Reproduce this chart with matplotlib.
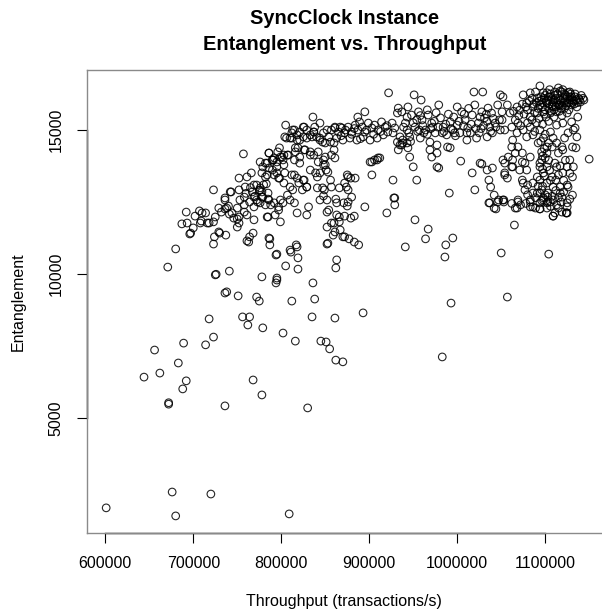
import numpy as np
import matplotlib
matplotlib.use("Agg")
import matplotlib.pyplot as plt

plt.rcParams['font.family'] = ['Liberation Sans', 'DejaVu Sans']

# (throughput in thousands of transactions/s, entanglement)
sparse_low = [
    (601, 1880), (676, 2430), (680, 1600), (720, 2360), (809, 1670),
    (672, 5480), (672, 5530), (736, 5420), (830, 5350), (644, 6420),
    (656, 7360), (662, 6560), (683, 6910), (689, 7600), (692, 6290),
    (688, 6010), (718, 8440), (714, 7540), (723, 7810), (768, 6320),
    (778, 5800), (756, 8510), (764, 8510), (762, 8230), (779, 8130),
    (802, 7950), (816, 7670), (812, 9060), (838, 9130), (835, 8510),
    (861, 8470), (845, 7670), (851, 7640), (855, 7400), (862, 7010),
    (870, 6950), (751, 9240), (772, 9200), (775, 9060), (738, 9380),
    (736, 9340), (893, 8650), (993, 8990), (983, 7120), (1057, 9200),
]

sparse_mid = [
    (952, 11880), (967, 11560), (964, 11220), (941, 10940), (995, 11250),
    (987, 11010), (986, 10590), (1050, 10730), (1104, 10690), (1065, 11700),
    (787, 11220), (787, 11010), (794, 10660), (795, 10690), (817, 11010),
    (811, 10760), (819, 10560), (805, 10280), (819, 10170), (852, 11040),
    (853, 11070), (870, 11290), (877, 11220), (883, 11110), (888, 11010),
    (863, 10490), (862, 10210), (778, 9900), (795, 9860), (794, 9690),
    (836, 9690), (680, 10870), (671, 10240), (725, 9970), (726, 9990),
    (741, 10100), (761, 11150), (764, 11290), (768, 11420), (786, 11250),
    (687, 11740), (696, 11390), (700, 11600), (709, 11840), (716, 11770),
    (723, 11810), (729, 11460), (724, 11290), (723, 11040), (737, 11350),
    (750, 11630), (750, 11910), (810, 10830), (818, 10940), (795, 9790),
    (852, 12150), (860, 11770), (866, 11980), (861, 11460), (867, 11530),
    (872, 11290), (859, 11350), (857, 11770), (852, 11630), (872, 12010),
    (879, 11940), (883, 12010), (863, 12050), (866, 11810), (920, 12120),
]

band_left = [
    (757, 14170), (723, 12920), (692, 12150), (707, 12190), (714, 12120),
    (732, 12150), (736, 12260), (736, 12570), (740, 12360), (743, 12850),
    (761, 12050), (769, 11880), (752, 13330), (761, 13370), (766, 13510),
    (782, 13850), (784, 11980), (760, 12800), (765, 13000), (770, 12700),
    (775, 12900), (780, 13100), (785, 12600), (788, 12400), (758, 12400),
    (773, 12500), (752, 12920), (759, 13020), (767, 12850), (772, 13090),
    (758, 12670), (769, 12670), (778, 12850), (736, 12640), (729, 12290),
    (738, 12290), (725, 11980), (718, 11770), (744, 12120), (752, 11980),
    (742, 12850), (753, 12570), (764, 12500), (772, 12570), (778, 12670),
    (786, 12570), (792, 12470), (797, 12330), (750, 12290), (758, 12150),
    (769, 12330), (807, 12740), (815, 12470), (799, 12570), (702, 12010),
    (710, 12120), (708, 11770), (693, 11770), (697, 11420), (730, 11420),
    (741, 12080), (746, 11940), (752, 11770), (763, 11110), (783, 13130),
    (776, 13890), (784, 13850), (795, 13890), (802, 13960), (792, 14030),
    (799, 14060), (807, 14130), (803, 13790), (795, 13720), (786, 13680),
    (776, 12990), (782, 13370), (792, 13440), (797, 13330), (803, 13160),
    (769, 13090), (779, 13720), (778, 13510), (784, 13440), (790, 13610),
    (795, 13510), (798, 13330), (804, 13510), (812, 13440), (818, 13330),
    (825, 13260), (776, 12920), (779, 12670), (785, 12810), (776, 12470),
    (782, 12400), (786, 14200), (790, 13960),
]

band_mid = [
    (842, 13890), (848, 13790), (839, 13510), (853, 13540), (856, 13260),
    (847, 12990), (841, 12990), (848, 12710), (852, 12570), (862, 12600),
    (854, 12220), (833, 13610), (829, 13020), (824, 12920), (813, 12920),
    (810, 12570), (802, 12470), (797, 12220), (793, 12050), (785, 11980),
    (799, 11810), (818, 12120), (829, 12050), (831, 12330), (875, 13440),
    (879, 13330), (884, 13330), (874, 13020), (876, 12920), (875, 12360),
    (895, 12330), (901, 13890), (906, 13960), (910, 14030), (927, 13260),
    (929, 12640), (929, 12400), (932, 14580), (935, 14480), (938, 14550),
    (933, 14310), (943, 15450), (922, 16290), (933, 15760), (932, 15590),
    (805, 15170), (836, 15450), (844, 15240), (895, 15630), (887, 15450),
    (889, 15280), (806, 14720), (812, 14720), (821, 14650), (829, 14720),
    (837, 14930), (844, 14720), (852, 15000), (861, 15070), (867, 15100),
    (860, 14550), (860, 14310), (861, 14030), (815, 13960), (821, 13850),
    (810, 13020), (820, 13160), (829, 13020), (849, 12920), (844, 12570),
    (826, 13260), (815, 13440), (848, 13960), (850, 13790), (851, 13610),
    (844, 13510), (841, 13370), (866, 12990), (872, 13160), (857, 13020),
    (871, 12470), (863, 12470), (876, 12500), (880, 12670), (876, 13370),
    (903, 13440), (903, 13890), (909, 13960), (912, 14030), (928, 12640),
    (804, 14760), (812, 14900), (818, 14650), (821, 14930), (825, 14760),
    (829, 15000), (833, 14830), (837, 14930), (840, 14760), (844, 14650),
    (848, 14900), (850, 14550), (857, 15000), (861, 15100), (865, 14930),
    (869, 15070), (872, 14900), (876, 15100), (880, 14930), (884, 15170),
    (887, 15000), (892, 15100), (895, 14930), (899, 15240), (903, 15070),
    (906, 15170), (910, 15000), (914, 15280), (918, 15100), (921, 14930),
    (926, 15240), (929, 15070), (935, 14760), (938, 14650), (937, 14480),
    (943, 14550), (944, 14380), (856, 14580), (863, 14720), (870, 14650),
    (878, 14720), (886, 14650), (893, 14760), (901, 14650), (909, 14720),
    (916, 14830), (838, 15100), (825, 15100), (813, 15000), (810, 14720),
    (833, 14240), (837, 14130), (827, 14310), (821, 14060), (819, 14380),
    (816, 14240), (808, 14130), (801, 14060), (796, 14240), (791, 13960),
    (826, 15100), (815, 15000), (818, 14830), (835, 14760), (847, 14580),
    (854, 14760), (798, 14380), (803, 14130), (816, 14380), (826, 14310),
    (833, 14130), (842, 14240), (850, 14060), (857, 14130), (786, 14200),
    (790, 13960),
]

band_right = [
    (937, 15630), (941, 15240), (943, 15000), (944, 15800), (948, 15520),
    (952, 15100), (956, 15630), (960, 15350), (964, 15000), (967, 15520),
    (971, 15240), (975, 14900), (979, 15870), (981, 15420), (984, 15100),
    (988, 14830), (992, 15280), (995, 15000), (1000, 15170), (1003, 14900),
    (1005, 15630), (1009, 15350), (1012, 15070), (1017, 15520), (1020, 15870),
    (1024, 15240), (1028, 15630), (1031, 15420), (1035, 15760), (1039, 15590),
    (1043, 15240), (1046, 15870), (1051, 15630), (946, 14760), (958, 14720),
    (969, 14580), (977, 14480), (1011, 14650), (1022, 14720), (1034, 14760),
    (1040, 14900), (1049, 15000), (969, 14310), (992, 14380), (951, 16220),
    (959, 16040), (1019, 16320), (1029, 16320), (1049, 16220), (946, 14060),
    (950, 13720), (954, 13260), (977, 13720), (979, 13680), (971, 14060),
    (977, 14200), (989, 14410), (1004, 13920), (991, 12810), (1020, 12920),
    (1017, 13510), (1026, 13850), (1028, 13820), (1034, 13610), (1040, 13680),
    (1036, 13260), (1042, 12740), (1036, 12470), (1042, 12290), (1047, 12570),
    (1053, 12570), (1038, 13020), (1046, 12500), (957, 15000), (962, 14900),
    (972, 15100), (985, 14950), (998, 14800), (1015, 14900), (1027, 15050),
    (1037, 15100), (954, 15350), (966, 15700), (990, 15550), (1000, 15800),
    (1013, 15750), (1026, 15450), (1041, 15400),
    (939, 15100), (945, 14900), (950, 15250), (955, 14950), (961, 15150),
    (966, 14850), (970, 15050), (974, 15300), (978, 15100), (983, 14900),
    (987, 15200), (993, 15050), (997, 14900), (1002, 15300), (1007, 15150),
    (1011, 14900), (1016, 15200), (1021, 15050), (1025, 14900), (1030, 15150),
    (1034, 15300), (1038, 14950), (1044, 15100), (1048, 15350), (958, 15500),
    (976, 15600), (996, 15450), (1008, 15550), (1033, 15550), (947, 14600),
]

cluster_right = [
    (1094, 16530), (1115, 16460), (1128, 16320), (1144, 16040), (1150, 13990),
    (1052, 13960), (1054, 13510), (1052, 12570), (1066, 12290), (1069, 12570),
    (1134, 15070), (1136, 14760), (1131, 14410), (1128, 13960), (1111, 12120),
    (1119, 12150), (1125, 12120), (1063, 14650), (1062, 14410), (1066, 14200),
    (1044, 12260), (1037, 12470), (1053, 12500), (1068, 12290), (1069, 12500),
    (1109, 12010), (1124, 12120), (1083, 12330), (1094, 12260), (1103, 12500),
    (1063, 13960), (1062, 13720), (1054, 13850), (1054, 13440), (1057, 13330),
    (1074, 13890), (1079, 13610), (1075, 13160), (1080, 13090), (1086, 12810),
    (1083, 12570), (1086, 12330), (1094, 12260), (1102, 12470), (1098, 12570),
    (1103, 12670), (1109, 12570), (1117, 12810), (1125, 13090), (1131, 12740),
    (1125, 12470), (1124, 12120), (1109, 12010), (1094, 12810), (1091, 13370),
    (1094, 13720), (1096, 13960), (1102, 14200), (1108, 14410), (1113, 14550),
    (1120, 14310), (1132, 15000), (1135, 14380), (1132, 13720), (1113, 13720),
    (1115, 13440), (1117, 13020), (1112, 13260),
    (1075, 16220), (1083, 16290), (1091, 16110), (1098, 16290), (1106, 16150),
    (1111, 16320), (1117, 16040), (1123, 16220), (1128, 16040), (1134, 16150),
    (1140, 15970), (1094, 15870), (1102, 15940), (1109, 15800), (1115, 15870),
    (1122, 15760), (1130, 15870), (1086, 15800), (1079, 15940), (1071, 15690),
    (1098, 15630), (1106, 15590), (1113, 15630), (1091, 15590), (1083, 15450),
    (1125, 15590), (1096, 16040), (1103, 16040), (1109, 15970), (1125, 15940),
    (1136, 15800), (1119, 16320), (1102, 16290), (1089, 16320), (1052, 16150),
    (1057, 15870), (1060, 15590), (1066, 15350), (1062, 15100), (1069, 15240),
    (1075, 15000), (1051, 15350), (1054, 15000), (1068, 14900), (1083, 15100),
    (1079, 14760), (1086, 14830), (1094, 15000), (1098, 14720), (1092, 14550),
    (1102, 14410), (1096, 14240), (1100, 14030), (1094, 13850), (1102, 13720),
    (1098, 13510), (1094, 13260), (1102, 13160), (1096, 12920), (1103, 12810),
    (1098, 12640), (1094, 12470), (1106, 12500), (1102, 12290), (1091, 12810),
    (1086, 13160), (1109, 13020), (1108, 13370), (1111, 13850), (1115, 14200),
    (1119, 14410), (1122, 14720), (1126, 14900), (1109, 14720), (1106, 14930),
    (1113, 15170), (1120, 15240), (1130, 15280), (1137, 15450), (1125, 13720),
    (1120, 13510), (1131, 13370), (1126, 13020), (1119, 12670), (1125, 12330),
    (1115, 12290), (1089, 12290), (1083, 12500), (1077, 12920), (1074, 13260),
    (1071, 13610), (1077, 13850), (1083, 14060), (1063, 13720), (1058, 14060),
    (1069, 14410), (1074, 14200),
    (1100, 16200), (1105, 16400), (1112, 16100), (1118, 15950), (1121, 16100),
    (1126, 16300), (1130, 16150), (1133, 16000), (1138, 16100), (1141, 16200),
    (1107, 16050), (1114, 16250), (1120, 16400), (1124, 15850), (1131, 15950),
    (1110, 15700), (1116, 15650), (1104, 15750), (1097, 15800), (1090, 15950),
    (1085, 16100), (1080, 15700), (1088, 15600), (1099, 15550), (1127, 15700),
]

# extra overlapping points that make the dense core solid
dense_core = [
    (1101, 16000), (1104, 15900), (1106, 16250), (1108, 15850), (1111, 16200),
    (1113, 15950), (1115, 16050), (1117, 16350), (1119, 15850), (1121, 15950),
    (1123, 16050), (1125, 16150), (1127, 15950), (1129, 16250), (1131, 16050),
    (1133, 15900), (1135, 16050), (1137, 15950), (1139, 16050), (1143, 16100),
    (1099, 16100), (1097, 15950), (1095, 16150), (1093, 16000), (1104, 16150),
    (1110, 16050), (1116, 15850), (1122, 16250), (1128, 16150), (1134, 16250),
    (1112, 15800), (1118, 15750), (1107, 15650), (1100, 15700), (1092, 15750),
    (1087, 15900), (1082, 16000), (1078, 15800), (1074, 15900), (1068, 15800),
    (1064, 15650), (1070, 15500), (1076, 15550), (1085, 15350), (1093, 15400),
    (1101, 15450), (1110, 15450), (1119, 15500), (1097, 15200), (1104, 15300),
    (1090, 15250), (1080, 15250), (1072, 15150), (1088, 14950), (1100, 14850),
    (1095, 14600), (1104, 14550), (1099, 14350), (1097, 14100), (1104, 13950),
    (1097, 13650), (1105, 13600), (1099, 13400), (1097, 13050), (1106, 13250),
    (1100, 12750), (1108, 12700), (1096, 12550), (1112, 12900), (1106, 12350),
    (1113, 12400), (1118, 12500), (1121, 12850), (1128, 12600), (1115, 12650),
    (1121, 13250), (1128, 13500), (1123, 13950), (1117, 13750), (1092, 13050),
    (1089, 12650), (1080, 12750), (1078, 12450), (1072, 12400), (1062, 12450),
    (880, 14850), (890, 14700), (897, 15000), (905, 14850), (913, 14950),
    (920, 15150), (927, 14900), (883, 15050), (868, 14800), (873, 15000),
]

x_ticks = [600000, 700000, 800000, 900000, 1000000, 1100000]
y_ticks = [5000, 10000, 15000]

groups = sparse_low + sparse_mid + band_left + band_mid + band_right + cluster_right + dense_core
pts = np.array(groups, dtype=float)
throughput = pts[:, 0] * 1000
entanglement = pts[:, 1]

fig = plt.figure(figsize=(6.02, 6.14), dpi=100)
ax = fig.add_axes([87 / 602, (614 - 533) / 614, (601.5 - 87) / 602, (533 - 70) / 614])

ax.scatter(throughput, entanglement, s=30, facecolors='none', edgecolors='black',
           linewidths=0.8, alpha=0.85)

ax.set_xlim(579200, 1164000)
ax.set_ylim(1007, 17083)

for side in ['left', 'bottom', 'top']:
    ax.spines[side].set_color('#8a8a8a')
    ax.spines[side].set_linewidth(1.0)
ax.spines['right'].set_visible(False)

# R style axis lines between first and last tick
ax.plot([x_ticks[0], x_ticks[-1]], [1007, 1007], color='black', lw=1.0, clip_on=False)
ax.plot([579200, 579200], [y_ticks[0], y_ticks[-1]], color='black', lw=1.0, clip_on=False)

ax.set_xticks(x_ticks)
ax.set_xticklabels([str(v) for v in x_ticks])
ax.set_yticks(y_ticks)
ax.set_yticklabels([str(v) for v in y_ticks], rotation=90, va='center')
ax.tick_params(length=7.2, width=0.8, color='black', labelsize=11.5, pad=9.5)

ax.set_xlabel('Throughput (transactions/s)', fontsize=11.5)
ax.set_ylabel('Entanglement', fontsize=11.5)
ax.xaxis.set_label_coords(0.5, -0.132)
ax.yaxis.set_label_coords(-0.12, 0.5)

fig.text((87 + 601.5) / 2 / 602, 1 - 31.5 / 614, 'SyncClock Instance\nEntanglement vs. Throughput',
         ha='center', va='center', fontsize=14.4, fontweight='bold', linespacing=1.45)

fig.savefig('out.png', dpi=100)
